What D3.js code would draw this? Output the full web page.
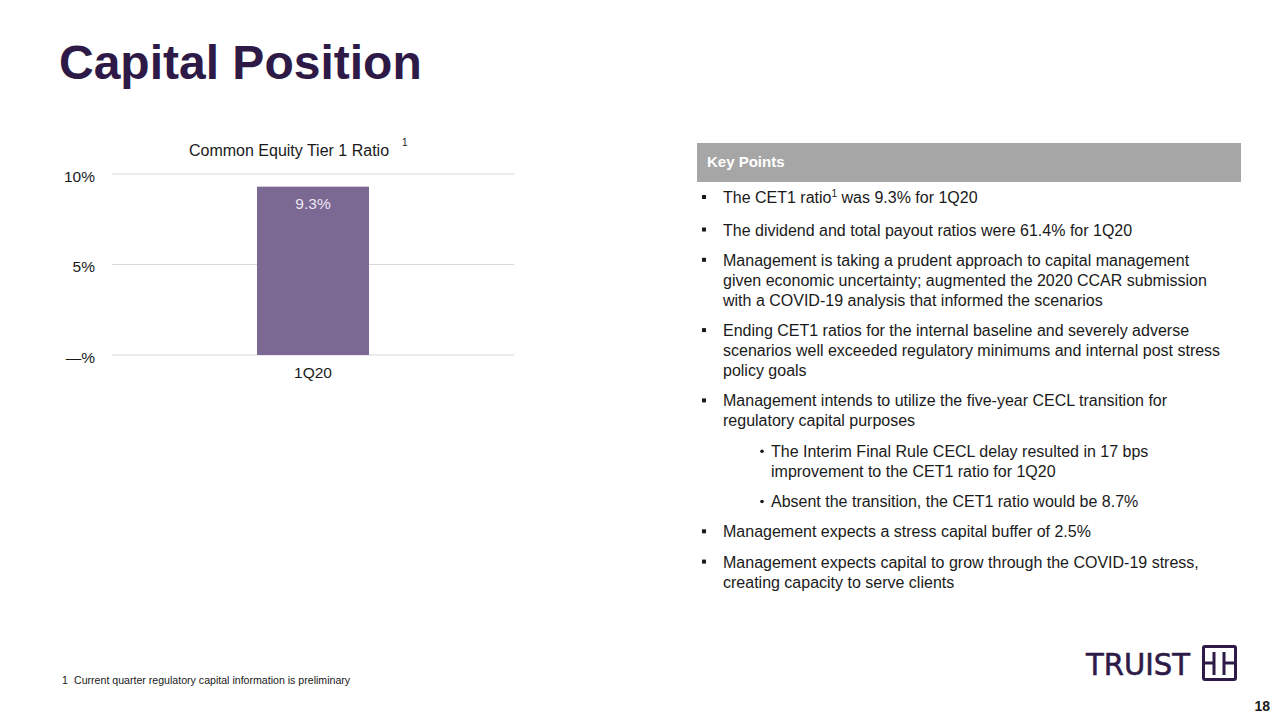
<!DOCTYPE html>
<html>
<head>
<meta charset="utf-8">
<script src="https://cdn.jsdelivr.net/npm/d3@7/dist/d3.min.js"></script>
<style>
  html, body { margin: 0; padding: 0; background: #ffffff; }
  svg { display: block; font-family: "Liberation Sans", Arial, sans-serif; }
</style>
</head>
<body>
<svg id="slide" width="1280" height="720"></svg>
<script>
// ---- Data ----
const categories = ["1Q20"];
const cet1Values = [9.3];
const yTickValues = [0, 5, 10];
const yTickLabels = ["—%", "5%", "10%"];
const barLabels = ["9.3%"];

const pageTitle = "Capital Position";
const chartTitle = "Common Equity Tier 1 Ratio";
const keyPointsTitle = "Key Points";
const keyPoints = [
  { level: 1, lines: [[{t: "The CET1 ratio"}, {t: "1", sup: true}, {t: " was 9.3% for 1Q20"}]] },
  { level: 1, lines: [[{t: "The dividend and total payout ratios were 61.4% for 1Q20"}]] },
  { level: 1, lines: [[{t: "Management is taking a prudent approach to capital management"}],
                      [{t: "given economic uncertainty; augmented the 2020 CCAR submission"}],
                      [{t: "with a COVID-19 analysis that informed the scenarios"}]] },
  { level: 1, lines: [[{t: "Ending CET1 ratios for the internal baseline and severely adverse"}],
                      [{t: "scenarios well exceeded regulatory minimums and internal post stress"}],
                      [{t: "policy goals"}]] },
  { level: 1, lines: [[{t: "Management intends to utilize the five-year CECL transition for"}],
                      [{t: "regulatory capital purposes"}]] },
  { level: 2, lines: [[{t: "The Interim Final Rule CECL delay resulted in 17 bps"}],
                      [{t: "improvement to the CET1 ratio for 1Q20"}]] },
  { level: 2, lines: [[{t: "Absent the transition, the CET1 ratio would be 8.7%"}]] },
  { level: 1, lines: [[{t: "Management expects a stress capital buffer of 2.5%"}]] },
  { level: 1, lines: [[{t: "Management expects capital to grow through the COVID-19 stress,"}],
                      [{t: "creating capacity to serve clients"}]] }
];
const footnoteNumber = "1";
const footnote = "Current quarter regulatory capital information is preliminary";
const pageNumber = "18";
const logoText = "TRUIST";

// ---- Styles ----
const purpleDark = "#2e1a47";
const barColor = "#7b6893";
const textColor = "#1a1a1a";

const svg = d3.select("#slide");

// Page title
svg.append("text")
  .attr("x", 59).attr("y", 79)
  .attr("font-size", 48).attr("font-weight", "bold")
  .attr("fill", purpleDark)
  .text(pageTitle);

// ---- Chart ----
const plot = { left: 112, right: 514, top: 174, bottom: 355 };

const x = d3.scaleBand()
  .domain(categories)
  .range([plot.left, plot.right])
  .paddingInner(0)
  .paddingOuter(1.295);

const y = d3.scaleLinear()
  .domain([0, 10])
  .range([plot.bottom, plot.top]);

const chart = svg.append("g");

// gridlines
chart.append("g")
  .selectAll("line")
  .data(yTickValues)
  .join("line")
  .attr("x1", plot.left).attr("x2", plot.right)
  .attr("y1", d => y(d)).attr("y2", d => y(d))
  .attr("stroke", "#d9d9d9").attr("stroke-width", 1);

// y axis labels via d3 axis
const yAxis = d3.axisLeft(y)
  .tickValues(yTickValues)
  .tickFormat((d, i) => yTickLabels[i])
  .tickSize(0)
  .tickPadding(0);
const yAxisG = chart.append("g")
  .attr("transform", `translate(95,2.5)`)
  .call(yAxis);
yAxisG.select(".domain").remove();
yAxisG.selectAll("text")
  .attr("font-size", 15.5)
  .attr("font-family", "Liberation Sans, Arial, sans-serif")
  .attr("fill", textColor);

// bars
chart.append("g")
  .selectAll("rect")
  .data(cet1Values)
  .join("rect")
  .attr("x", (d, i) => x(categories[i]))
  .attr("width", x.bandwidth())
  .attr("y", d => y(d))
  .attr("height", d => y(0) - y(d))
  .attr("fill", barColor);

// bar labels
chart.append("g")
  .selectAll("text")
  .data(cet1Values)
  .join("text")
  .attr("x", (d, i) => x(categories[i]) + x.bandwidth() / 2)
  .attr("y", d => y(d) + 22)
  .attr("text-anchor", "middle")
  .attr("font-size", 15.5)
  .attr("fill", "#ece6f2")
  .text((d, i) => barLabels[i]);

// x axis labels
const xAxis = d3.axisBottom(x).tickSize(0).tickPadding(0);
const xAxisG = chart.append("g")
  .attr("transform", `translate(0,${plot.bottom + 12})`)
  .call(xAxis);
xAxisG.select(".domain").remove();
xAxisG.selectAll("text")
  .attr("font-size", 15.5)
  .attr("font-family", "Liberation Sans, Arial, sans-serif")
  .attr("fill", textColor);

// chart title
svg.append("text")
  .attr("x", 289).attr("y", 156)
  .attr("text-anchor", "middle")
  .attr("font-size", 16)
  .attr("fill", textColor)
  .text(chartTitle);
svg.append("text")
  .attr("x", 402).attr("y", 146)
  .attr("font-size", 10)
  .attr("fill", textColor)
  .text("1");

// ---- Key points ----
svg.append("rect")
  .attr("x", 697).attr("y", 143)
  .attr("width", 544).attr("height", 39)
  .attr("fill", "#a6a6a6");
svg.append("text")
  .attr("x", 707).attr("y", 167)
  .attr("font-size", 15).attr("font-weight", "bold")
  .attr("fill", "#ffffff")
  .text(keyPointsTitle);

const kp = svg.append("g");
let baseline = 203;
const lineH = 20;
const paraGap = 30.3;
keyPoints.forEach((p, pi) => {
  if (pi === 1) baseline += 32.5 - paraGap;
  const textX = p.level === 1 ? 723 : 771;
  if (p.level === 1) {
    kp.append("rect")
      .attr("x", 702).attr("y", baseline - 8)
      .attr("width", 4).attr("height", 4)
      .attr("fill", textColor);
  } else {
    kp.append("circle")
      .attr("cx", 762).attr("cy", baseline - 5.5)
      .attr("r", 1.8)
      .attr("fill", textColor);
  }
  p.lines.forEach((segs, li) => {
    const t = kp.append("text")
      .attr("x", textX).attr("y", baseline)
      .attr("font-size", 16)
      .attr("fill", textColor);
    let shifted = false;
    segs.forEach(s => {
      const ts = t.append("tspan").text(s.t);
      if (s.sup) { ts.attr("font-size", 10).attr("dy", -6); shifted = true; }
      else if (shifted) { ts.attr("dy", 6); shifted = false; }
    });
    if (li < p.lines.length - 1) baseline += lineH;
  });
  baseline += paraGap;
});

// ---- Footnote, page number, logo ----
const fn = svg.append("text")
  .attr("x", 62).attr("y", 684)
  .attr("font-size", 10.6)
  .attr("fill", textColor);
fn.append("tspan").text(footnoteNumber);
fn.append("tspan").attr("x", 74).text(footnote);

svg.append("text")
  .attr("x", 1270).attr("y", 711)
  .attr("text-anchor", "end")
  .attr("font-size", 14).attr("font-weight", "bold")
  .attr("fill", textColor)
  .text(pageNumber);

svg.append("text")
  .attr("x", 1086).attr("y", 675)
  .attr("font-size", 31)
  .attr("font-weight", "normal")
  .attr("font-family", "DejaVu Sans, Liberation Sans, sans-serif")
  .attr("textLength", 104)
  .attr("lengthAdjust", "spacingAndGlyphs")
  .attr("stroke", purpleDark).attr("stroke-width", 0.6)
  .attr("fill", purpleDark)
  .text(logoText);

const logo = svg.append("g").attr("stroke", purpleDark).attr("stroke-width", 3).attr("fill", "none");
logo.append("rect").attr("x", 1203.5).attr("y", 646.5).attr("width", 32).attr("height", 33).attr("rx", 1.5);
logo.append("line").attr("x1", 1203.5).attr("x2", 1214).attr("y1", 663).attr("y2", 663);
logo.append("line").attr("x1", 1224).attr("x2", 1235.5).attr("y1", 663).attr("y2", 663);
logo.append("line").attr("x1", 1214).attr("x2", 1214).attr("y1", 652).attr("y2", 675);
logo.append("line").attr("x1", 1224).attr("x2", 1224).attr("y1", 652).attr("y2", 675);
</script>
</body>
</html>
